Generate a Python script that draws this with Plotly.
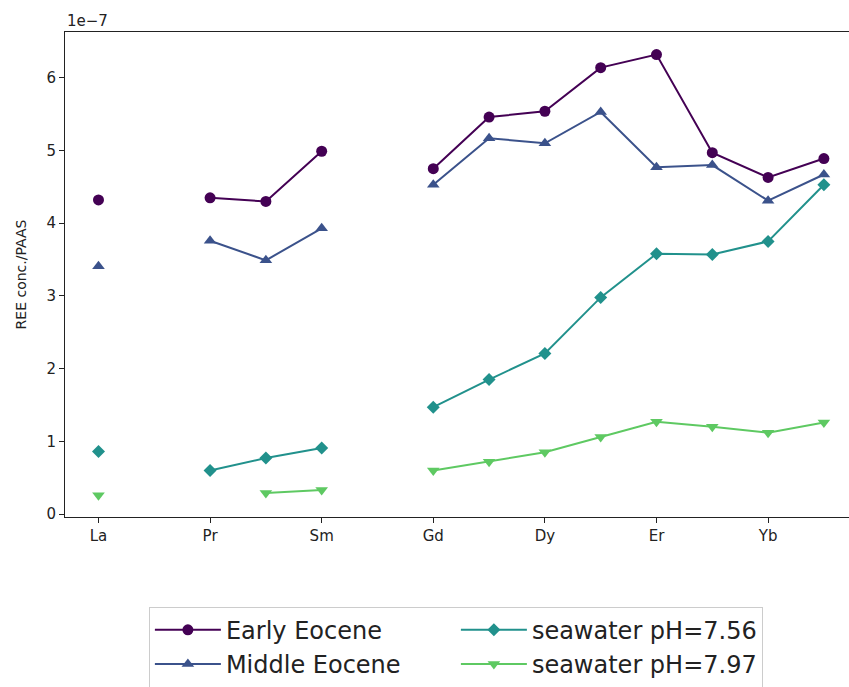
import plotly.graph_objects as go

elements = ["La", "Ce", "Pr", "Nd", "Sm", "Eu", "Gd", "Tb", "Dy", "Ho", "Er", "Tm", "Yb", "Lu"]
tick_labels = ["La", "Pr", "Sm", "Gd", "Dy", "Er", "Yb"]
tick_index = [0, 2, 4, 6, 8, 10, 12]

# values in units of 1e-7 (REE conc./PAAS)
early_eocene = [4.32, None, 4.35, 4.30, 4.99, None, 4.75, 5.46, 5.54, 6.14, 6.32, 4.97, 4.63, 4.89]
middle_eocene = [3.41, None, 3.76, 3.49, 3.93, None, 4.53, 5.17, 5.10, 5.53, 4.77, 4.80, 4.31, 4.67]
seawater_756 = [0.86, None, 0.60, 0.77, 0.91, None, 1.47, 1.85, 2.21, 2.98, 3.58, 3.57, 3.75, 4.53]
seawater_797 = [0.26, None, None, 0.29, 0.33, None, 0.60, 0.72, 0.85, 1.06, 1.27, 1.20, 1.12, 1.26]

x = list(range(len(elements)))

series = [
    ("Early Eocene", early_eocene, "#440154", "circle", 11, 1),
    ("Middle Eocene", middle_eocene, "#3b528b", "triangle-up", 11, 3),
    ("seawater pH=7.56", seawater_756, "#21918c", "diamond", 10, 2),
    ("seawater pH=7.97", seawater_797, "#5ec962", "triangle-down", 11, 4),
]

fig = go.Figure()
for name, vals, color, sym, size, rank in series:
    fig.add_trace(go.Scatter(
        x=x, y=vals, name=name, mode="lines+markers",
        line=dict(color=color, width=2),
        marker=dict(color=color, symbol=sym, size=size),
        connectgaps=False, legendrank=rank,
    ))

fig.update_layout(
    width=849, height=687,
    margin=dict(l=65, r=0, t=32, b=170, autoexpand=False),
    plot_bgcolor="white", paper_bgcolor="white",
    font=dict(family="DejaVu Sans", size=15, color="#222"),
    showlegend=True,
    legend=dict(
        orientation="h", x=0.107, y=-0.185, xanchor="left", yanchor="top",
        entrywidth=225, entrywidthmode="pixels",
        font=dict(size=24, color="#222"),
        bordercolor="#cccccc", borderwidth=1, bgcolor="white",
        itemwidth=66, tracegroupgap=0,
    ),
)
fig.update_xaxes(
    range=[-0.6, 13.45], tickvals=tick_index, ticktext=tick_labels,
    showgrid=False, zeroline=False, showline=True, mirror=True,
    linecolor="#222", linewidth=1, ticks="outside", ticklen=5, tickcolor="#222",
)
fig.update_yaxes(
    range=[-0.04, 6.63], tickvals=[0, 1, 2, 3, 4, 5, 6],
    showgrid=False, zeroline=False, showline=True, mirror=False,
    linecolor="#222", linewidth=1, ticks="outside", ticklen=5, tickcolor="#222",
    title=dict(text="REE conc./PAAS", standoff=16, font=dict(size=14)),
)
fig.add_annotation(text="1e\u22127", xref="paper", yref="paper", x=0, y=1,
                   xanchor="left", yanchor="bottom", showarrow=False,
                   font=dict(size=15, color="#222"))

fig.write_html("out.html")
